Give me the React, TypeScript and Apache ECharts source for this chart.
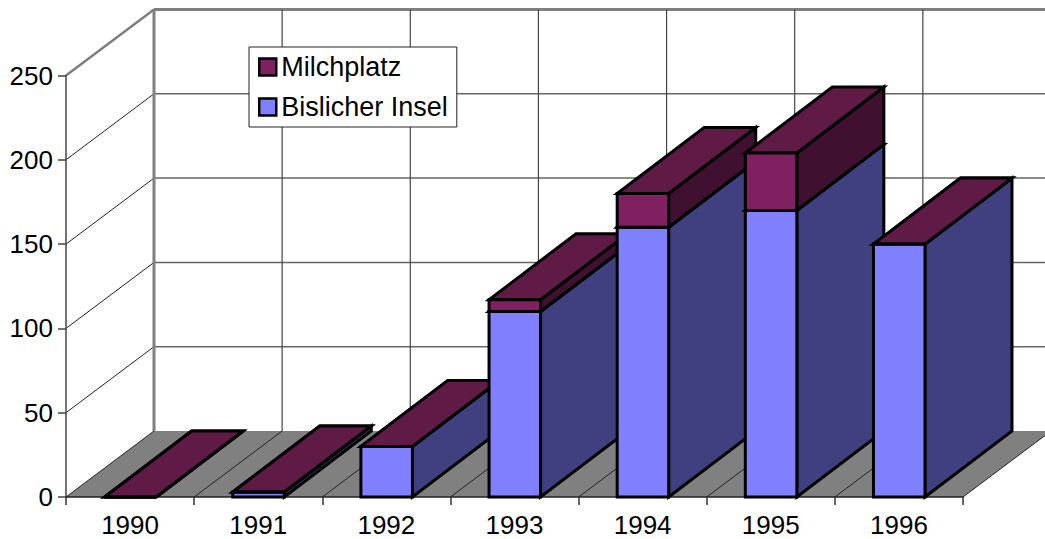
import React, { useEffect, useRef } from "react";
import * as echarts from "echarts";

const years = ["1990", "1991", "1992", "1993", "1994", "1995", "1996"];
const bislicher = [0, 3, 30, 110, 160, 170, 150];
const milchplatz = [0, 0, 0, 7, 20, 34, 0];
const yTicks = [0, 50, 100, 150, 200, 250];
const seriesNames = ["Milchplatz", "Bislicher Insel"];

const DX = 88;
const DY = -66;
const BOX_DX = 87;
const BAR = 0.402;
const FONT = "Liberation Sans";

const poly = (points: number[][], fill: string, z2: number) => ({
  type: "polygon",
  z2,
  shape: { points },
  style: { fill, stroke: "#000", lineWidth: 3, lineJoin: "miter" },
});

const boxItem = (front: string, side: string, top: string, layer: number) => (_p: any, api: any) => {
  const i = api.value(0);
  const [cx, y0] = api.coord([i, api.value(1)]);
  const [, y1] = api.coord([i, api.value(2)]);
  const w = api.size([1, 0])[0] * BAR;
  const l = cx - w / 2 + 0.3;
  const r = cx + w / 2 + 0.3;
  const z = 10 + i * 10 + layer;
  return {
    type: "group",
    children: [
      poly([[r, y1], [r + BOX_DX, y1 + DY], [r + BOX_DX, y0 + DY], [r, y0]], side, z),
      poly([[l, y1], [l + BOX_DX, y1 + DY], [r + BOX_DX, y1 + DY], [r, y1]], top, z),
      poly([[l, y1], [r, y1], [r, y0], [l, y0]], front, z),
    ],
  };
};

const line = (x1: number, y1: number, x2: number, y2: number, stroke: string, lineWidth: number, z2 = 1) => ({
  type: "line",
  z2,
  shape: { x1, y1, x2, y2 },
  style: { stroke, lineWidth },
});

const wallHorizontal = (_p: any, api: any) => {
  const v = api.value(1);
  const [cx, y] = api.coord([0, v]);
  const band = api.size([1, 0])[0];
  const left = cx - band / 2;
  const right = left + band * years.length;
  const children: any[] = [];
  if (v === 0) {
    children.push({
      type: "polygon",
      z2: 0,
      shape: { points: [[left, y], [right, y], [right + DX, y + DY], [left + DX, y + DY]] },
      style: { fill: "#808080", stroke: "none" },
    });
  } else {
    const edge = v === yTicks[yTicks.length - 1];
    children.push(line(left, y, left + DX, y + DY, edge ? "#808080" : "#222", edge ? 2.5 : 1));
    children.push(line(left + DX, y + DY, right + DX, y + DY, edge ? "#808080" : "#666", edge ? 3 : 1.5));
  }
  return { type: "group", children };
};

const wallVertical = (_p: any, api: any) => {
  const k = api.value(0);
  const [cx, y0] = api.coord([0, 0]);
  const [, yTop] = api.coord([0, yTicks[yTicks.length - 1]]);
  const band = api.size([1, 0])[0];
  const x = cx - band / 2 + k * band;
  return {
    type: "group",
    children: [
      line(x + DX, y0 + DY, x + DX, yTop + DY, k === 0 ? "#808080" : "#444", k === 0 ? 3 : 1.2, 2),
      line(x, y0, x + DX, y0 + DY, "#222", 1, 2),
    ],
  };
};

export default function App() {
  const ref = useRef<HTMLDivElement>(null);
  useEffect(() => {
    const chart = echarts.init(ref.current!, undefined, { renderer: "svg" });
    chart.setOption({
      animation: false,
      textStyle: { fontFamily: FONT },
      grid: { left: 66, top: 75.5, width: 897, height: 421.5 },
      legend: {
        data: seriesNames,
        orient: "vertical",
        left: 249,
        top: 47,
        padding: [5, 9, 5, 9],
        itemWidth: 17,
        itemHeight: 17,
        itemGap: 10,
        icon: "rect",
        backgroundColor: "#fff",
        borderColor: "#222",
        borderWidth: 1,
        itemStyle: { borderColor: "#000", borderWidth: 2.5 },
        textStyle: { fontFamily: FONT, fontSize: 27, color: "#000", lineHeight: 30 },
      },
      xAxis: {
        type: "category",
        data: years,
        z: 1,
        axisLine: { lineStyle: { color: "#222", width: 1.5 } },
        axisTick: { show: true, length: 8, lineStyle: { color: "#333", width: 1.5 } },
        axisLabel: { color: "#000", fontSize: 26, margin: 15, fontFamily: FONT },
      },
      yAxis: {
        type: "value",
        min: 0,
        max: 250,
        interval: 50,
        z: 1,
        splitLine: { show: false },
        axisLine: { show: true, lineStyle: { color: "#444", width: 1.5 } },
        axisTick: { show: true, length: 8, lineStyle: { color: "#444", width: 1.5 } },
        axisLabel: { color: "#000", fontSize: 26, margin: 13, fontFamily: FONT },
      },
      series: [
        {
          type: "custom",
          z: 0,
          silent: true,
          renderItem: wallHorizontal,
          data: yTicks.map((v) => [0, v]),
          encode: { x: 0, y: 1 },
        },
        {
          type: "custom",
          z: 0,
          silent: true,
          renderItem: wallVertical,
          data: [...years, ""].map((_, k) => [k, 0]),
          encode: { y: 1 },
        },
        {
          type: "custom",
          name: seriesNames[1],
          z: 2,
          itemStyle: { color: "#8080FF" },
          renderItem: boxItem("#8080FF", "#404080", "#404080", 0),
          data: bislicher.map((v, i) => [i, 0, v]),
          encode: { x: 0, y: 2 },
        },
        {
          type: "custom",
          name: seriesNames[0],
          z: 2,
          itemStyle: { color: "#802060" },
          renderItem: boxItem("#802060", "#401030", "#601A46", 1),
          data: milchplatz.map((v, i) => [i, bislicher[i], bislicher[i] + v]),
          encode: { x: 0, y: 2 },
        },
      ],
    });
    return () => chart.dispose();
  }, []);
  return <div ref={ref} style={{ position: "absolute", left: 0, top: 0, width: 1045, height: 539 }} />;
}
